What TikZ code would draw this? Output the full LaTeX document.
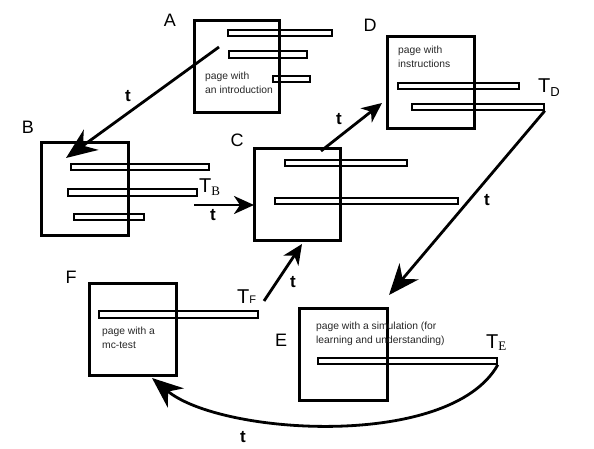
\documentclass[tikz,border=0pt]{standalone}
\usepackage{fontspec}
\setmainfont{Liberation Sans}
\newfontfamily\serifT{Liberation Serif}
\usetikzlibrary{arrows.meta}
\begin{document}
\begin{tikzpicture}[x=1pt,y=-1pt,
  page/.style={draw,line width=3pt,inner sep=0pt,anchor=north west},
  bar/.style={draw,line width=1.8pt,inner sep=0pt,anchor=north west},
  letter/.style={font=\fontsize{18}{18}\selectfont,inner sep=0pt},
  tlab/.style={font=\fontsize{17}{17}\selectfont\bfseries,inner sep=0pt},
  desc/.style={font=\fontsize{10.3}{14}\selectfont,inner sep=0pt,anchor=north west,align=left,text=black!85},
  tname/.style={inner sep=0pt,anchor=base west,font=\fontsize{20}{20}\selectfont},
  bigarrow/.style={line width=2.8pt,-{Stealth[length=31pt,width=25pt,inset=10pt]}},
  smallarrow/.style={line width=2.8pt,-{Stealth[length=20pt,width=18pt,inset=6pt]}},
]
\useasboundingbox (0,0) rectangle (594,449);
% pages
\node[page,minimum width=85pt,minimum height=92pt] (A) at (193,19) {};
\node[page,minimum width=87pt,minimum height=92pt] (D) at (386,35) {};
\node[page,minimum width=87pt,minimum height=93pt] (B) at (40,141) {};
\node[page,minimum width=86pt,minimum height=92pt] (C) at (253,147) {};
\node[page,minimum width=87pt,minimum height=92pt] (F) at (88,282) {};
\node[page,minimum width=88pt,minimum height=92pt] (E) at (298,307) {};
% bars
\node[bar,minimum width=104pt,minimum height=6pt] (A1) at (227,29) {};
\node[bar,minimum width=78pt,minimum height=7pt] (A2) at (228,50) {};
\node[bar,minimum width=37pt,minimum height=6pt] (A3) at (272,75) {};
\node[bar,minimum width=121pt,minimum height=6pt] (D1) at (397,82) {};
\node[bar,minimum width=132pt,minimum height=6pt] (D2) at (411,103) {};
\node[bar,minimum width=138pt,minimum height=6pt] (B1) at (70,163) {};
\node[bar,minimum width=129pt,minimum height=7pt] (B2) at (67,188) {};
\node[bar,minimum width=70pt,minimum height=6pt] (B3) at (73,213) {};
\node[bar,minimum width=122pt,minimum height=6pt] (C1) at (284,159) {};
\node[bar,minimum width=183pt,minimum height=6pt] (C2) at (274,197) {};
\node[bar,minimum width=159pt,minimum height=7pt] (F1) at (98,310) {};
\node[bar,minimum width=179pt,minimum height=6pt] (E1) at (317,357) {};
% letters
\node[letter] (la) at (170,20) {A};
\node[letter] (ld) at (370,25) {D};
\node[letter] (lb) at (28,127) {B};
\node[letter] (lc) at (237,140) {C};
\node[letter] (lf) at (71,277) {F};
\node[letter] (le) at (281,340) {E};
% descriptions
\node[desc] (ta) at (205,72) {page with\\an introduction};
\node[desc] (td) at (398,46) {page with\\instructions};
\node[desc] (tf) at (102,327) {page with a\\mc-test};
\node[desc] (te) at (316,322) {page with a simulation (for\\learning and understanding)};
% T labels
\node[tname] (TB) at (199,193) {T\raisebox{-3pt}{\serifT\fontsize{13}{13}\selectfont B}};
\node[tname] (TD) at (538,93) {T\raisebox{-4pt}{\fontsize{13}{13}\selectfont D}};
\node[tname] (TE) at (486,348) {T\raisebox{-2pt}{\serifT\fontsize{13}{13}\selectfont E}};
\node[tname] (TF) at (237,303) {T{\fontsize{11}{11}\selectfont F}};
% connector endpoints
\coordinate (a0) at (219,47);
\coordinate (b0) at (66,158);
\coordinate (c0) at (321,151);
\coordinate (d0) at (382,103);
\coordinate (e0) at (194,205);
\coordinate (e1) at (254,205);
\coordinate (f0) at (264,301);
\coordinate (f1) at (302,244);
\coordinate (g1) at (389,295);
\coordinate (h1) at (152,378);
% connectors
\draw[bigarrow] (a0) -- (b0);
\draw[smallarrow] (c0) -- (d0);
\draw[smallarrow] (e0) -- (e1);
\draw[smallarrow] (f0) -- (f1);
\draw[bigarrow] (D2.south east) -- (g1);
\draw[bigarrow] (E1.south east) .. controls (450,450) and (220,435) .. (h1);
% t labels
\node[tlab] (t1) at (128,96) {t};
\node[tlab] (t2) at (339,119) {t};
\node[tlab] (t3) at (213,215) {t};
\node[tlab] (t4) at (487,200) {t};
\node[tlab] (t5) at (293,282) {t};
\node[tlab] (t6) at (243,437) {t};
\end{tikzpicture}
\end{document}
